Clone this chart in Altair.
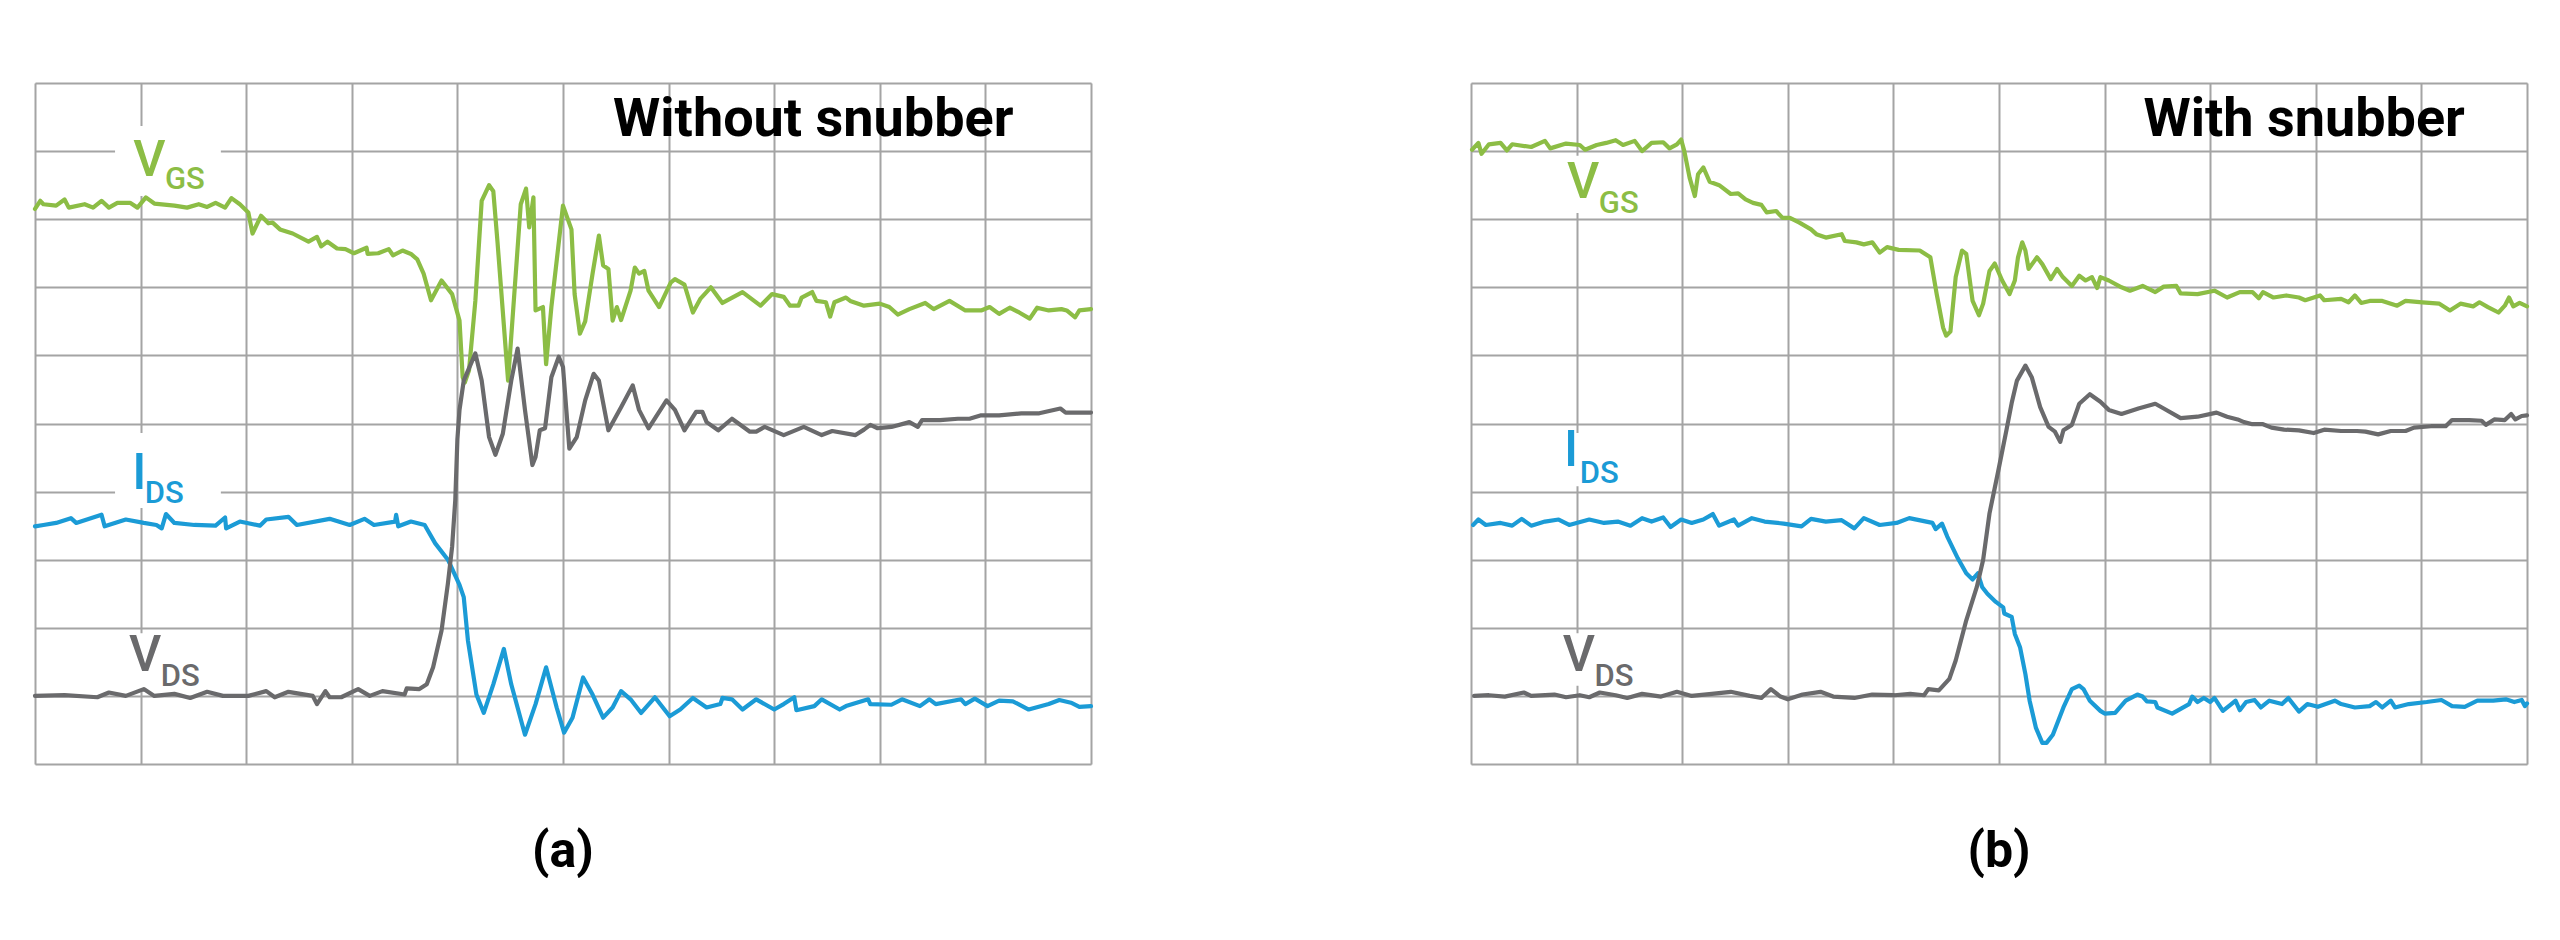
import altair as alt
import pandas as pd

# ---------------- Panel (a): without snubber (grid units 0..10) ----------------
A_VGS_X = [0, 0.05, 0.08, 0.2, 0.28, 0.32, 0.47, 0.55, 0.63, 0.7, 0.78, 0.9, 0.97, 1.05, 1.13, 1.32, 1.44, 1.55, 1.63, 1.71, 1.8, 1.86, 1.94, 2.02, 2.06, 2.14, 2.21, 2.25, 2.32, 2.44, 2.59, 2.67, 2.71, 2.77, 2.86, 2.94, 3.02, 3.14, 3.15, 3.25, 3.35, 3.39, 3.48, 3.56, 3.62, 3.68, 3.75, 3.85, 3.95, 4.02, 4.05, 4.07, 4.11, 4.17, 4.23, 4.3, 4.34, 4.38, 4.48, 4.6, 4.65, 4.68, 4.72, 4.74, 4.81, 4.84, 4.89, 5.0, 5.08, 5.11, 5.16, 5.21, 5.28, 5.34, 5.38, 5.43, 5.47, 5.51, 5.55, 5.64, 5.68, 5.72, 5.77, 5.81, 5.91, 6.02, 6.06, 6.15, 6.23, 6.3, 6.4, 6.51, 6.7, 6.87, 6.98, 7.09, 7.15, 7.23, 7.26, 7.36, 7.4, 7.49, 7.53, 7.57, 7.68, 7.72, 7.85, 8.0, 8.09, 8.17, 8.28, 8.43, 8.51, 8.66, 8.81, 8.96, 9.04, 9.13, 9.23, 9.32, 9.42, 9.49, 9.6, 9.72, 9.77, 9.85, 9.89, 10.0]
A_VGS_Y = [8.15, 8.27, 8.22, 8.2, 8.29, 8.17, 8.22, 8.17, 8.27, 8.17, 8.24, 8.24, 8.17, 8.32, 8.23, 8.2, 8.17, 8.22, 8.18, 8.24, 8.17, 8.31, 8.22, 8.1, 7.79, 8.05, 7.94, 7.95, 7.85, 7.79, 7.67, 7.74, 7.6, 7.67, 7.57, 7.56, 7.5, 7.58, 7.49, 7.5, 7.56, 7.47, 7.54, 7.49, 7.41, 7.2, 6.81, 7.1, 6.9, 6.51, 5.68, 5.6, 5.78, 6.8, 8.27, 8.5, 8.41, 7.66, 5.63, 8.22, 8.45, 7.88, 8.32, 6.66, 6.71, 5.87, 6.71, 8.2, 7.85, 6.9, 6.32, 6.5, 7.2, 7.76, 7.32, 7.27, 6.51, 6.71, 6.52, 6.95, 7.29, 7.2, 7.24, 6.95, 6.71, 7.07, 7.12, 7.04, 6.63, 6.83, 7.0, 6.77, 6.93, 6.73, 6.9, 6.86, 6.73, 6.73, 6.85, 6.93, 6.8, 6.78, 6.57, 6.78, 6.85, 6.8, 6.73, 6.76, 6.71, 6.6, 6.68, 6.77, 6.68, 6.8, 6.66, 6.66, 6.71, 6.61, 6.7, 6.63, 6.54, 6.7, 6.66, 6.68, 6.66, 6.56, 6.66, 6.68]

A_VDS_X = [0, 0.28, 0.59, 0.7, 0.86, 1.03, 1.13, 1.32, 1.47, 1.63, 1.78, 2.02, 2.19, 2.27, 2.4, 2.63, 2.67, 2.75, 2.79, 2.9, 3.06, 3.17, 3.29, 3.5, 3.52, 3.64, 3.71, 3.77, 3.85, 3.91, 3.95, 3.98, 4.0, 4.02, 4.06, 4.17, 4.23, 4.3, 4.36, 4.43, 4.51, 4.57, 4.64, 4.71, 4.74, 4.78, 4.83, 4.89, 4.96, 5.0, 5.06, 5.13, 5.21, 5.29, 5.34, 5.43, 5.55, 5.66, 5.72, 5.81, 5.98, 6.06, 6.15, 6.26, 6.32, 6.36, 6.47, 6.6, 6.77, 6.83, 6.91, 7.09, 7.28, 7.45, 7.55, 7.77, 7.85, 7.91, 7.98, 8.11, 8.28, 8.36, 8.4, 8.57, 8.74, 8.85, 8.96, 9.13, 9.34, 9.51, 9.71, 9.76, 10.0]
A_VDS_Y = [1.0, 1.01, 0.98, 1.05, 1.0, 1.1, 1.0, 1.03, 0.97, 1.06, 1.0, 1.0, 1.07, 0.98, 1.06, 1.0, 0.88, 1.07, 0.98, 0.98, 1.1, 1.0, 1.07, 1.02, 1.11, 1.1, 1.17, 1.42, 1.96, 2.65, 3.19, 3.88, 4.77, 5.2, 5.63, 6.03, 5.63, 4.8, 4.54, 4.85, 5.63, 6.1, 5.2, 4.39, 4.51, 4.9, 4.93, 5.68, 5.98, 5.83, 4.63, 4.8, 5.34, 5.73, 5.63, 4.9, 5.24, 5.56, 5.2, 4.93, 5.34, 5.2, 4.9, 5.17, 5.17, 5.02, 4.9, 5.07, 4.88, 4.88, 4.95, 4.83, 4.95, 4.83, 4.89, 4.83, 4.91, 4.98, 4.93, 4.95, 5.02, 4.95, 5.05, 5.05, 5.07, 5.07, 5.12, 5.12, 5.15, 5.15, 5.22, 5.16, 5.16]

A_IDS_X = [0, 0.08, 0.2, 0.34, 0.39, 0.63, 0.66, 0.86, 1.03, 1.15, 1.2, 1.24, 1.32, 1.51, 1.71, 1.8, 1.81, 1.94, 2.13, 2.19, 2.4, 2.48, 2.79, 2.98, 3.12, 3.21, 3.41, 3.42, 3.44, 3.56, 3.69, 3.79, 3.91, 4.02, 4.06, 4.1, 4.18, 4.25, 4.34, 4.44, 4.51, 4.64, 4.74, 4.84, 4.94, 5.01, 5.09, 5.19, 5.28, 5.38, 5.47, 5.55, 5.64, 5.74, 5.87, 6.01, 6.11, 6.23, 6.36, 6.49, 6.51, 6.6, 6.7, 6.83, 7.0, 7.09, 7.19, 7.21, 7.38, 7.45, 7.62, 7.68, 7.89, 7.91, 8.11, 8.21, 8.38, 8.47, 8.53, 8.77, 8.81, 8.9, 9.02, 9.13, 9.26, 9.41, 9.6, 9.7, 9.81, 9.89, 10.0]
A_IDS_Y = [3.49, 3.51, 3.54, 3.61, 3.54, 3.66, 3.49, 3.59, 3.54, 3.51, 3.46, 3.67, 3.54, 3.51, 3.5, 3.62, 3.46, 3.56, 3.5, 3.59, 3.63, 3.51, 3.6, 3.51, 3.6, 3.51, 3.56, 3.66, 3.49, 3.56, 3.51, 3.24, 3.0, 2.63, 2.45, 1.81, 1.02, 0.75, 1.17, 1.69, 1.17, 0.43, 0.88, 1.42, 0.83, 0.46, 0.68, 1.27, 1.02, 0.68, 0.83, 1.07, 0.95, 0.75, 0.98, 0.7, 0.8, 0.97, 0.83, 0.88, 0.97, 0.95, 0.8, 0.95, 0.8, 0.88, 0.98, 0.79, 0.85, 0.95, 0.8, 0.85, 0.95, 0.88, 0.87, 0.95, 0.85, 0.95, 0.88, 0.95, 0.88, 0.96, 0.85, 0.93, 0.92, 0.8, 0.88, 0.94, 0.9, 0.84, 0.85]

# ---------------- Panel (b): with snubber ----------------
B_VGS_X = [0.01, 0.07, 0.1, 0.17, 0.28, 0.34, 0.39, 0.57, 0.7, 0.75, 0.9, 1.03, 1.08, 1.19, 1.28, 1.37, 1.44, 1.55, 1.62, 1.71, 1.82, 1.88, 1.95, 1.99, 2.02, 2.07, 2.12, 2.15, 2.2, 2.26, 2.35, 2.46, 2.53, 2.6, 2.67, 2.75, 2.8, 2.89, 2.95, 3.02, 3.11, 3.22, 3.27, 3.36, 3.51, 3.54, 3.65, 3.72, 3.8, 3.87, 3.94, 4.05, 4.25, 4.35, 4.41, 4.47, 4.5, 4.54, 4.59, 4.65, 4.69, 4.75, 4.81, 4.85, 4.91, 4.96, 5.03, 5.1, 5.15, 5.18, 5.22, 5.25, 5.28, 5.36, 5.41, 5.49, 5.55, 5.6, 5.69, 5.76, 5.82, 5.88, 5.93, 5.96, 6.04, 6.16, 6.24, 6.36, 6.48, 6.56, 6.68, 6.72, 6.88, 7.04, 7.16, 7.28, 7.4, 7.46, 7.5, 7.6, 7.72, 7.84, 7.9, 8.04, 8.08, 8.24, 8.31, 8.37, 8.43, 8.51, 8.63, 8.77, 8.85, 9.01, 9.17, 9.27, 9.37, 9.49, 9.55, 9.63, 9.73, 9.79, 9.83, 9.87, 9.93, 10.0]
B_VGS_Y = [9.02, 9.12, 8.96, 9.1, 9.12, 9.01, 9.1, 9.06, 9.15, 9.04, 9.11, 9.09, 9.02, 9.09, 9.12, 9.16, 9.09, 9.15, 9.0, 9.12, 9.13, 9.04, 9.1, 9.17, 9.0, 8.61, 8.34, 8.66, 8.76, 8.55, 8.5, 8.37, 8.38, 8.29, 8.24, 8.21, 8.1, 8.12, 8.02, 8.02, 7.95, 7.85, 7.78, 7.73, 7.78, 7.68, 7.66, 7.63, 7.66, 7.51, 7.59, 7.55, 7.54, 7.44, 6.9, 6.41, 6.29, 6.35, 7.15, 7.54, 7.49, 6.8, 6.59, 6.76, 7.24, 7.35, 7.1, 6.9, 7.1, 7.44, 7.66, 7.54, 7.27, 7.44, 7.34, 7.12, 7.27, 7.16, 7.02, 7.17, 7.1, 7.15, 6.99, 7.15, 7.1, 7.0, 6.95, 7.02, 6.93, 7.01, 7.02, 6.91, 6.9, 6.95, 6.85, 6.93, 6.93, 6.84, 6.93, 6.85, 6.88, 6.85, 6.81, 6.88, 6.81, 6.83, 6.78, 6.88, 6.77, 6.8, 6.8, 6.73, 6.8, 6.78, 6.76, 6.66, 6.76, 6.72, 6.78, 6.71, 6.63, 6.73, 6.85, 6.72, 6.77, 6.72]

B_VDS_X = [0.03, 0.17, 0.32, 0.5, 0.57, 0.79, 0.9, 1.03, 1.12, 1.22, 1.37, 1.48, 1.62, 1.8, 1.95, 2.09, 2.28, 2.46, 2.64, 2.75, 2.84, 2.93, 3.0, 3.14, 3.31, 3.43, 3.63, 3.8, 4.01, 4.16, 4.29, 4.33, 4.43, 4.53, 4.59, 4.69, 4.79, 4.85, 4.91, 4.99, 5.07, 5.12, 5.17, 5.25, 5.31, 5.39, 5.47, 5.53, 5.58, 5.61, 5.69, 5.76, 5.86, 5.96, 6.04, 6.16, 6.32, 6.48, 6.56, 6.72, 6.88, 7.06, 7.16, 7.26, 7.32, 7.4, 7.5, 7.58, 7.7, 7.84, 7.98, 8.08, 8.24, 8.39, 8.47, 8.59, 8.71, 8.85, 8.93, 9.09, 9.23, 9.29, 9.45, 9.57, 9.61, 9.69, 9.79, 9.85, 9.89, 9.95, 10.0]
B_VDS_Y = [1.0, 1.01, 0.99, 1.05, 1.0, 1.02, 0.98, 1.01, 0.98, 1.05, 1.01, 0.97, 1.03, 0.99, 1.06, 1.0, 1.03, 1.06, 1.0, 0.97, 1.1, 0.99, 0.95, 1.02, 1.06, 0.99, 0.97, 1.02, 1.01, 1.03, 1.01, 1.1, 1.08, 1.25, 1.52, 2.11, 2.6, 3.0, 3.68, 4.28, 4.9, 5.3, 5.63, 5.85, 5.68, 5.24, 4.95, 4.88, 4.73, 4.9, 4.98, 5.29, 5.43, 5.32, 5.2, 5.14, 5.22, 5.29, 5.22, 5.08, 5.1, 5.16, 5.1, 5.06, 5.02, 4.99, 4.99, 4.94, 4.91, 4.9, 4.86, 4.91, 4.89, 4.89, 4.88, 4.84, 4.89, 4.89, 4.94, 4.96, 4.96, 5.05, 5.05, 5.04, 4.98, 5.06, 5.05, 5.14, 5.06, 5.11, 5.12]

B_IDS_X = [0.02, 0.07, 0.14, 0.28, 0.39, 0.48, 0.57, 0.7, 0.83, 0.93, 1.12, 1.26, 1.39, 1.51, 1.62, 1.71, 1.82, 1.89, 1.99, 2.09, 2.2, 2.29, 2.35, 2.49, 2.53, 2.66, 2.78, 2.96, 3.13, 3.22, 3.36, 3.51, 3.63, 3.72, 3.87, 4.03, 4.15, 4.37, 4.4, 4.46, 4.51, 4.61, 4.69, 4.75, 4.8, 4.84, 4.89, 4.97, 5.04, 5.05, 5.12, 5.15, 5.2, 5.25, 5.29, 5.35, 5.41, 5.45, 5.51, 5.61, 5.69, 5.76, 5.8, 5.86, 5.96, 6.0, 6.1, 6.2, 6.31, 6.36, 6.4, 6.48, 6.5, 6.64, 6.8, 6.83, 6.88, 6.94, 7.0, 7.04, 7.12, 7.2, 7.24, 7.28, 7.34, 7.42, 7.48, 7.56, 7.68, 7.74, 7.84, 7.92, 8.02, 8.18, 8.24, 8.37, 8.51, 8.57, 8.63, 8.71, 8.75, 8.88, 9.05, 9.19, 9.29, 9.41, 9.53, 9.68, 9.8, 9.88, 9.95, 9.98, 10.0]
B_IDS_Y = [3.51, 3.59, 3.51, 3.54, 3.5, 3.6, 3.5, 3.56, 3.59, 3.51, 3.59, 3.54, 3.56, 3.5, 3.61, 3.56, 3.62, 3.48, 3.59, 3.54, 3.59, 3.67, 3.5, 3.59, 3.5, 3.61, 3.56, 3.53, 3.49, 3.6, 3.56, 3.58, 3.46, 3.61, 3.51, 3.54, 3.61, 3.54, 3.45, 3.53, 3.34, 3.02, 2.8, 2.71, 2.8, 2.6, 2.5, 2.38, 2.3, 2.21, 2.16, 1.91, 1.71, 1.32, 0.93, 0.53, 0.31, 0.31, 0.43, 0.83, 1.1, 1.15, 1.1, 0.93, 0.78, 0.74, 0.75, 0.93, 1.02, 0.99, 0.92, 0.91, 0.83, 0.74, 0.88, 0.99, 0.91, 0.97, 0.91, 0.97, 0.78, 0.88, 0.93, 0.79, 0.91, 0.94, 0.83, 0.93, 0.88, 0.97, 0.77, 0.88, 0.84, 0.93, 0.88, 0.83, 0.85, 0.91, 0.83, 0.93, 0.83, 0.88, 0.91, 0.94, 0.85, 0.84, 0.93, 0.93, 0.95, 0.91, 0.94, 0.85, 0.89]

# ---------------- Text ----------------
TITLES = ["Without snubber", "With snubber"]
TITLE_X = [7.37, 7.89]
CAPTIONS = ["(a)", "(b)"]
MAIN_LETTERS = ["V", "I", "V"]
SUB_LETTERS = ["GS", "DS", "DS"]
A_MAIN_POS = [(0.93, 8.63), (0.92, 4.04), (0.89, 1.37)]
A_SUB_POS = [(1.23, 8.44), (1.04, 3.83), (1.19, 1.15)]
B_MAIN_POS = [(0.91, 8.31), (0.88, 4.38), (0.87, 1.37)]
B_SUB_POS = [(1.21, 8.09), (1.03, 4.13), (1.17, 1.15)]
A_BOXES = [(0.758, 1.76, 8.34, 9.37), (0.758, 1.76, 3.76, 4.86), (0.81, 1.59, 1.10, 1.92)]
B_BOXES = [(0.73, 1.63, 8.09, 8.93), (0.73, 1.49, 4.08, 4.86), (0.78, 1.58, 1.15, 1.92)]

GREEN = "#8cbd45"
BLUE = "#1b9bd6"
GRAY = "#6a6a6c"
GRID = "#a4a4a4"
LABEL_COLORS = [GREEN, BLUE, GRAY]
FONT = "Roboto"

W, H = 1056, 681

X = alt.X("x:Q", title=None,
          scale=alt.Scale(domain=[0, 10], nice=False, zero=False),
          axis=alt.Axis(values=list(range(11)), grid=True, labels=False, ticks=False,
                        domain=False, gridColor=GRID, gridWidth=2, gridOpacity=1))
Y = alt.Y("y:Q", title=None,
          scale=alt.Scale(domain=[0, 10], nice=False, zero=False),
          axis=alt.Axis(values=list(range(11)), grid=True, labels=False, ticks=False,
                        domain=False, gridColor=GRID, gridWidth=2, gridOpacity=1))


def trace(xs, ys, color):
    df = pd.DataFrame({"x": xs, "y": ys, "i": list(range(len(xs)))})
    return alt.Chart(df).mark_line(color=color, strokeWidth=4.2, strokeJoin="round",
                                   strokeCap="round").encode(x=X, y=Y, order="i:Q")


def panel(traces, boxes, main_pos, sub_pos, title, title_x, caption):
    bdf = pd.DataFrame({"x": [b[0] for b in boxes], "x2": [b[1] for b in boxes],
                        "y": [b[2] for b in boxes], "y2": [b[3] for b in boxes]})
    box = alt.Chart(bdf).mark_rect(color="white").encode(x=X, x2="x2:Q", y=Y, y2="y2:Q")

    mdf = pd.DataFrame({"x": [p[0] for p in main_pos], "y": [p[1] for p in main_pos],
                        "t": MAIN_LETTERS, "c": LABEL_COLORS})
    sdf = pd.DataFrame({"x": [p[0] for p in sub_pos], "y": [p[1] for p in sub_pos],
                        "t": SUB_LETTERS, "c": LABEL_COLORS})
    main_txt = alt.Chart(mdf).mark_text(align="left", baseline="alphabetic", font=FONT,
                                        fontSize=50, fontWeight=500).encode(
        x=X, y=Y, text="t:N", color=alt.Color("c:N", scale=None))
    sub_txt = alt.Chart(sdf).mark_text(align="left", baseline="alphabetic", font=FONT,
                                       fontSize=31, fontWeight=500).encode(
        x=X, y=Y, text="t:N", color=alt.Color("c:N", scale=None))

    tdf = pd.DataFrame({"x": [title_x], "y": [9.22], "t": [title]})
    ttl = alt.Chart(tdf).mark_text(align="center", baseline="alphabetic", font=FONT,
                                   fontSize=54, fontWeight="bold", color="black").encode(
        x=X, y=Y, text="t:N")
    cdf = pd.DataFrame({"x": [5.0], "y": [-1.51], "t": [caption]})
    cap = alt.Chart(cdf).mark_text(align="center", baseline="alphabetic", font=FONT,
                                   fontSize=50, fontWeight="bold", color="black").encode(
        x=X, y=Y, text="t:N")

    lines = [trace(xs, ys, c) for xs, ys, c in traces]
    return alt.layer(box, *lines, main_txt, sub_txt, ttl, cap).properties(width=W, height=H)


left = panel([(A_VGS_X, A_VGS_Y, GREEN), (A_IDS_X, A_IDS_Y, BLUE), (A_VDS_X, A_VDS_Y, GRAY)],
             A_BOXES, A_MAIN_POS, A_SUB_POS, TITLES[0], TITLE_X[0], CAPTIONS[0])
right = panel([(B_VGS_X, B_VGS_Y, GREEN), (B_IDS_X, B_IDS_Y, BLUE), (B_VDS_X, B_VDS_Y, GRAY)],
              B_BOXES, B_MAIN_POS, B_SUB_POS, TITLES[1], TITLE_X[1], CAPTIONS[1])

chart = alt.hconcat(left, right, spacing=380, bounds="flush").properties(
    padding={"left": 24, "top": 74, "right": 0, "bottom": 0}
).configure_view(stroke=GRID, strokeWidth=2).configure(background="white")

chart.save("out.html", embed_options={"renderer": "svg", "actions": False})
